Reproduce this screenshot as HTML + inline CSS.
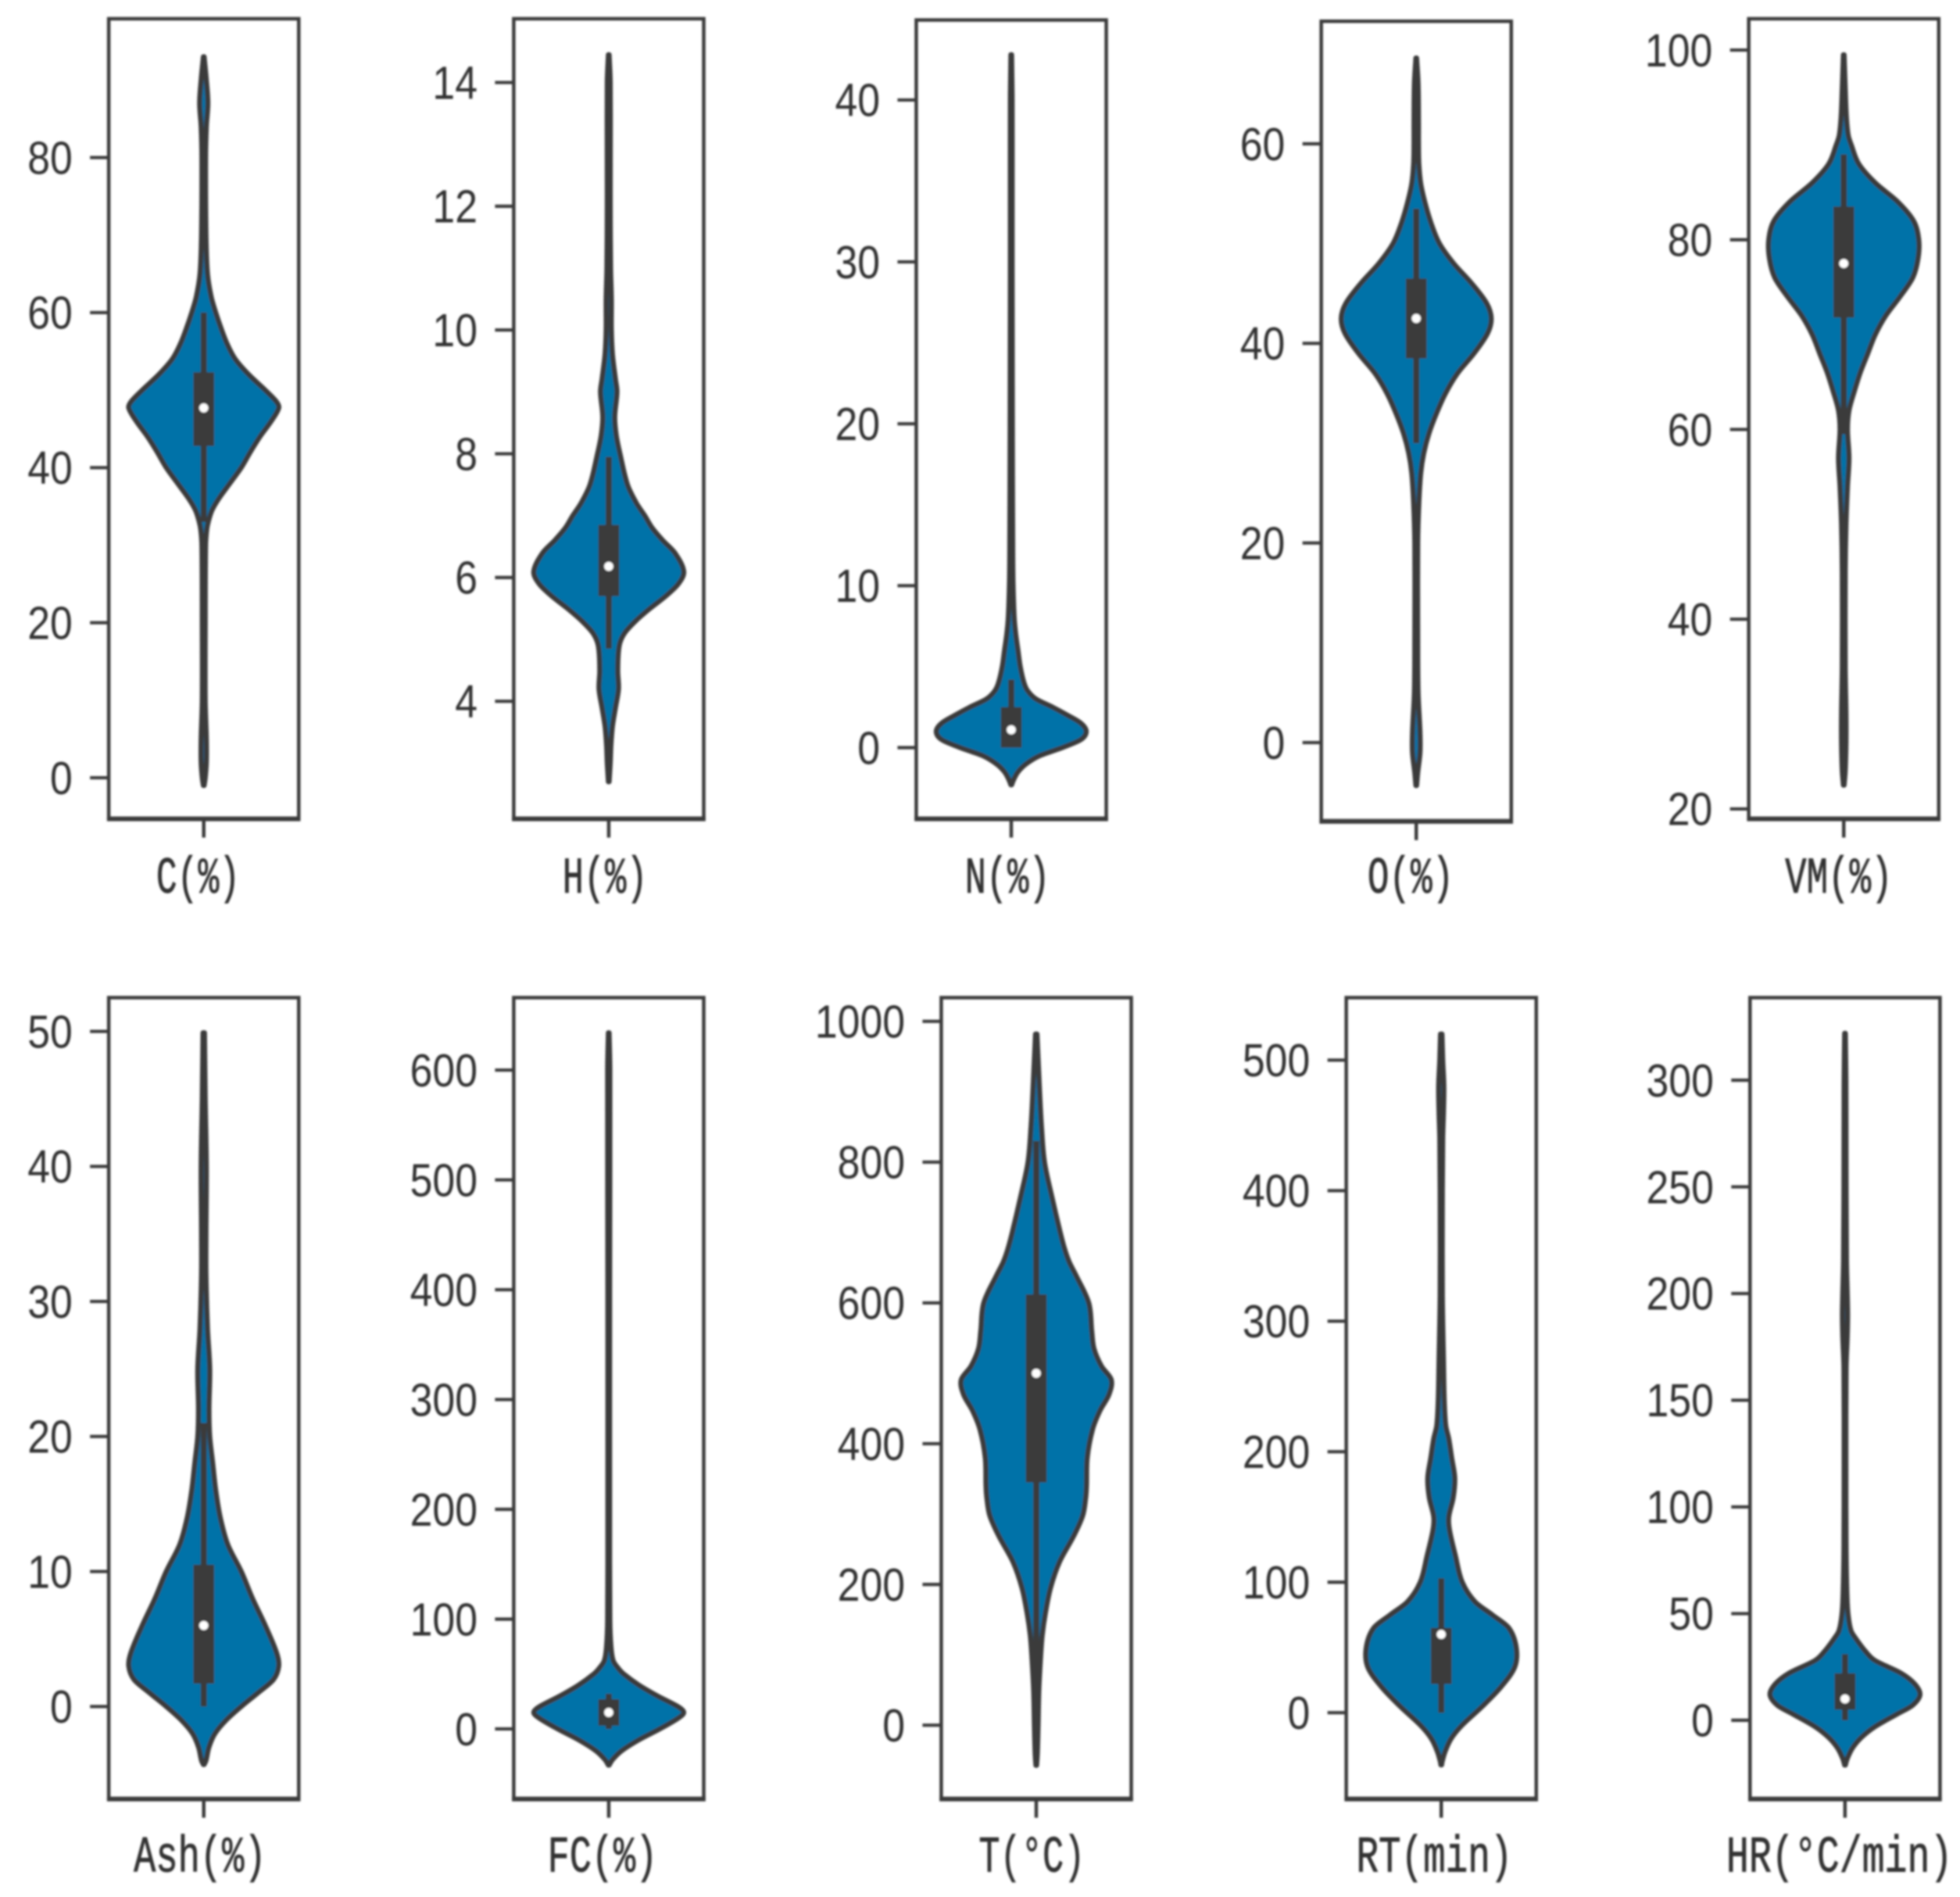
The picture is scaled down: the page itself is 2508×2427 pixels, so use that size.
<!DOCTYPE html>
<html lang="en">
<head>
<meta charset="utf-8">
<title>Violin plots of biomass and process variables</title>
<style>
html,body{margin:0;padding:0;background:#fff;}
svg{display:block;}
.tick-label{font-family:"Liberation Sans","Noto Sans CJK SC",sans-serif;font-size:37px;fill:#333;}
.x-label{font-family:"Liberation Mono","Noto Sans CJK SC",monospace;font-size:41px;fill:#333;stroke:#333;stroke-width:0.5px;}
</style>
</head>
<body>
<svg id="chart" xmlns="http://www.w3.org/2000/svg" width="2508" height="2427" viewBox="0 0 1568 1517.4" preserveAspectRatio="none">
  <defs>
    <filter id="soft" x="0" y="0" width="1568" height="1518" filterUnits="userSpaceOnUse" primitiveUnits="userSpaceOnUse">
      <feGaussianBlur stdDeviation="0.85"/>
    </filter>
  </defs>
  <rect x="0" y="0" width="1568" height="1517.4" fill="#fff"/>
  <g id="plots" filter="url(#soft)"></g>
</svg>
<script>
// ---- Data: value stops, relative density, box stats [whiskerLow, q1, median, q3, whiskerHigh], axis domain, ticks ----
const cValues = [93,90,87,84,80,70,65,62,60,58,56,54,52,50,48.5,47.7,46,44,42,40,38,36,34.5,33,32,30,20,10,5,2,0,-1];
const cDensity = [0.005,0.035,0.055,0.035,0.025,0.03,0.05,0.1,0.16,0.23,0.31,0.42,0.6,0.82,0.97,1,0.9,0.75,0.62,0.5,0.35,0.2,0.11,0.06,0.04,0.025,0.02,0.02,0.035,0.035,0.02,0.005];
const cBox = [33,42.8,47.7,52.3,60];
const cDomain = [-5.3,97.9];
const cTicks = [0,20,40,60,80];

const hValues = [14.45,14,12,11,10.5,10,9.6,9.2,9,8.6,8.3,8,7.5,7.2,7,6.8,6.6,6.4,6.1,5.9,5.7,5.5,5.3,5.1,4.9,4.5,4.2,3.9,3.6,3.3,3,2.7];
const hDensity = [0.005,0.02,0.02,0.025,0.035,0.035,0.05,0.09,0.11,0.08,0.1,0.15,0.25,0.37,0.48,0.58,0.72,0.88,1,0.93,0.76,0.55,0.36,0.21,0.14,0.12,0.13,0.09,0.05,0.03,0.02,0.005];
const hBox = [4.85,5.7,6.18,6.85,7.95];
const hDomain = [2.1,15.03];
const hTicks = [4,6,8,10,12,14];

const nValues = [42.8,40,30,20,12,10,8,7,6,5,4,3.5,3,2.5,2,1.5,1,0.5,0,-0.5,-1,-1.5,-2,-2.3];
const nDensity = [0.005,0.012,0.012,0.015,0.02,0.025,0.04,0.06,0.09,0.12,0.17,0.22,0.33,0.55,0.75,0.93,1,0.93,0.68,0.38,0.2,0.09,0.03,0.005];
const nBox = [0,0,1.1,2.5,4.2];
const nDomain = [-4.4,44.94];
const nTicks = [0,10,20,30,40];

const oValues = [68.6,66,62,60,58,56,54,52,50,48,46,44,42.5,41,39,37,35,33,31,29,27,24,20,10,5,1,-1,-3,-4.3];
const oDensity = [0.005,0.025,0.03,0.03,0.035,0.06,0.12,0.2,0.31,0.5,0.74,0.94,1,0.95,0.77,0.55,0.39,0.27,0.17,0.1,0.06,0.035,0.02,0.02,0.025,0.05,0.05,0.02,0.005];
const oBox = [30,38.5,42.5,46.5,53.5];
const oDomain = [-7.89,72.28];
const oTicks = [0,20,40,60];

const vmValues = [99.5,96,93,91,90,88,86,84,82,80,78,76,74,72,70,68,66,64,62,60,57,54,50,45,35,30,27,24,22.5];
const vmDensity = [0.005,0.02,0.035,0.06,0.1,0.2,0.42,0.72,0.93,1,0.99,0.92,0.75,0.56,0.42,0.32,0.22,0.14,0.07,0.05,0.07,0.05,0.03,0.02,0.02,0.03,0.03,0.02,0.005];
const vmBox = [59.5,71.8,77.5,83.5,89];
const vmDomain = [18.95,103.3];
const vmTicks = [20,40,60,80,100];

const ashValues = [49.9,45,40,35,32,28,25,22,20,18,16,14,12,10,8,6,4,3,2,1,0,-1,-2,-3,-4,-4.3];
const ashDensity = [0.01,0.02,0.035,0.03,0.03,0.05,0.08,0.07,0.08,0.12,0.16,0.22,0.32,0.5,0.65,0.82,0.97,1,0.93,0.72,0.5,0.3,0.15,0.07,0.03,0.005];
const ashBox = [0,1.7,6,10.5,21];
const ashDomain = [-6.85,52.5];
const ashTicks = [0,10,20,30,40,50];

const fcValues = [634,600,400,200,100,75,62,55,50,40,30,20,15,10,0,-10,-20,-28,-33];
const fcDensity = [0.005,0.015,0.012,0.012,0.015,0.03,0.06,0.13,0.2,0.4,0.65,0.93,1,0.93,0.68,0.4,0.17,0.05,0.005];
const fcBox = [0,3,15,27,32];
const fcDomain = [-63.8,666];
const fcTicks = [0,100,200,300,400,500,600];

const tValues = [982,900,850,800,750,700,676,658,639,600,560,535,510,491,470,447,420,380,340,324,298,269,232,195,158,128,100,50,0,-40,-57];
const tDensity = [0.01,0.045,0.07,0.11,0.21,0.32,0.38,0.44,0.53,0.7,0.74,0.77,0.87,1,0.97,0.85,0.75,0.68,0.67,0.66,0.62,0.5,0.31,0.19,0.12,0.08,0.06,0.035,0.025,0.015,0.005];
const tBox = [0,345,500,612,830];
const tDomain = [-104.8,1033.7];
const tTicks = [0,200,400,600,800,1000];

const rtValues = [520,500,480,460,440,400,320,270,240,220,210,195,180,165,150,140,120,100,85,75,65,50,35,20,5,-10,-20,-30,-38,-40];
const rtDensity = [0.01,0.02,0.035,0.03,0.02,0.015,0.015,0.03,0.04,0.06,0.1,0.14,0.18,0.16,0.1,0.11,0.19,0.28,0.45,0.68,0.9,1,0.98,0.8,0.55,0.27,0.13,0.05,0.01,0.005];
const rtBox = [0,22,60,65,103];
const rtDomain = [-66.1,547.9];
const rtTicks = [0,100,200,300,400,500];

const hrValues = [322,300,250,215,200,190,180,165,120,80,60,50,42,38,32,28,22,17,12,7,3,-3,-8,-13,-18,-21];
const hrDensity = [0.005,0.012,0.015,0.02,0.03,0.035,0.03,0.015,0.012,0.015,0.025,0.04,0.08,0.15,0.28,0.4,0.75,0.93,1,0.9,0.7,0.4,0.22,0.1,0.03,0.005];
const hrBox = [0,5,10,22,31];
const hrDomain = [-36.9,338.7];
const hrTicks = [0,50,100,150,200,250,300];

const categories = ['C(%)','H(%)','N(%)','O(%)','VM(%)','Ash(%)','FC(%)','T(°C)','RT(min)','HR(°C/min)'];
const categorySlugs = ['c','h','n','o','vm','ash','fc','t','rt','hr'];
const allValues = [cValues,hValues,nValues,oValues,vmValues,ashValues,fcValues,tValues,rtValues,hrValues];
const allDensity = [cDensity,hDensity,nDensity,oDensity,vmDensity,ashDensity,fcDensity,tDensity,rtDensity,hrDensity];
const allBoxes = [cBox,hBox,nBox,oBox,vmBox,ashBox,fcBox,tBox,rtBox,hrBox];
const allDomains = [cDomain,hDomain,nDomain,oDomain,vmDomain,ashDomain,fcDomain,tDomain,rtDomain,hrDomain];
const allTicks = [cTicks,hTicks,nTicks,oTicks,vmTicks,ashTicks,fcTicks,tTicks,rtTicks,hrTicks];

// ---- Layout (frame geometry, separate from the data) ----
const frames = [
  {l:87,t:15,b:655,lx:125,lw:67,ly:714},
  {l:411,t:15,b:655,lx:450,lw:68,ly:714},
  {l:733,t:16,b:655,lx:772,lw:68,ly:714},
  {l:1057,t:17,b:657,lx:1094,lw:69,ly:714},
  {l:1399,t:15,b:655,lx:1428,lw:86,ly:714},
  {l:87,t:798,b:1439,lx:107,lw:106,ly:1497},
  {l:411,t:798,b:1439,lx:438,lw:88,ly:1497},
  {l:753,t:798,b:1439,lx:783,lw:85,ly:1497},
  {l:1077,t:798,b:1439,lx:1085,lw:125,ly:1497},
  {l:1400,t:798,b:1439,lx:1381,lw:181,ly:1497}
];
const FRAME_W = 152, MAX_HALF = 60, INK = '#3b3b3b', BLUE = '#0072a8', DIGIT_W = 18;
const NS = 'http://www.w3.org/2000/svg';
const root = document.getElementById('plots');

function make(tag, attrs, parent) {
  const node = document.createElementNS(NS, tag);
  for (const k in attrs) node.setAttribute(k, attrs[k]);
  parent.appendChild(node);
  return node;
}
function yScale(domain, frame) {
  return v => frame.b - (v - domain[0]) / (domain[1] - domain[0]) * (frame.b - frame.t);
}
// smooth outline: x as a function of y, with finite-difference tangents at uneven stops
function smooth(pts) {
  const slope = i => {
    const a = pts[Math.max(i - 1, 0)], b = pts[Math.min(i + 1, pts.length - 1)];
    return (b[0] - a[0]) / ((b[1] - a[1]) || 1);
  };
  let d = '';
  for (let i = 0; i < pts.length - 1; i++) {
    const p1 = pts[i], p2 = pts[i + 1], h = (p2[1] - p1[1]) / 3;
    d += 'C' + (p1[0] + slope(i) * h).toFixed(2) + ' ' + (p1[1] + h).toFixed(2) + ' ' +
         (p2[0] - slope(i + 1) * h).toFixed(2) + ' ' + (p2[1] - h).toFixed(2) + ' ' +
         p2[0].toFixed(2) + ' ' + p2[1].toFixed(2);
  }
  return d;
}

categories.forEach((label, i) => {
  const f = frames[i];
  const slug = categorySlugs[i];
  const cx = f.l + FRAME_W / 2;
  const y = yScale(allDomains[i], f);
  const values = allValues[i], density = allDensity[i], box = allBoxes[i];

  const g = make('g', {}, root);
  
  

  // violin body
  const right = values.map((v, k) => [cx + density[k] * MAX_HALF, y(v)]);
  const left = values.map((v, k) => [cx - density[k] * MAX_HALF, y(v)]).reverse();
  const d = 'M' + right[0][0].toFixed(2) + ' ' + right[0][1].toFixed(2) + smooth(right) +
            'L' + left[0][0].toFixed(2) + ' ' + left[0][1].toFixed(2) + smooth(left) + 'Z';
  const violin = make('path', {d: d, fill: BLUE, stroke: INK, 'stroke-width': 4, 'stroke-linejoin': 'round'}, g);
  
  

  // whisker
  const whisker = make('line', {x1: cx, x2: cx, y1: y(box[0]), y2: y(box[4]), stroke: INK, 'stroke-width': 4.8}, g);
  
  

  // box
  const iqr = make('rect', {x: cx - 8.3, y: y(box[3]), width: 16.6, height: y(box[1]) - y(box[3]), fill: INK}, g);
  
  

  // median
  const med = make('circle', {cx: cx, cy: y(box[2]), r: 3.6, fill: '#fff'}, g);
  
  

  // frame
  const frame = make('rect', {x: f.l, y: f.t, width: FRAME_W, height: f.b - f.t, fill: 'none', stroke: INK, 'stroke-width': 2.8}, g);
  
  
  const baseLine = make('line', {x1: f.l - 1.4, x2: f.l + FRAME_W + 1.4, y1: f.b, y2: f.b, stroke: INK, 'stroke-width': 3.8}, g);
  
  

  // y ticks and labels
  allTicks[i].forEach(t => {
    const tick = make('line', {x1: f.l - 15, x2: f.l, y1: y(t), y2: y(t), stroke: INK, 'stroke-width': 2.6}, g);
    
    
    const w = String(t).length * DIGIT_W;
    const txt = make('text', {x: f.l - 29 - w, y: y(t) + 13, textLength: w, lengthAdjust: 'spacingAndGlyphs', class: 'tick-label'}, g);
    
    
    txt.textContent = t;
  });

  // x tick and label
  const xt = make('line', {x1: cx, x2: cx, y1: f.b, y2: f.b + 15, stroke: INK, 'stroke-width': 2.8}, g);
  
  
  const xl = make('text', {x: f.lx, y: f.ly, textLength: f.lw, lengthAdjust: 'spacingAndGlyphs', class: 'x-label'}, g);
  
  
  xl.textContent = label;
});
</script>
</body>
</html>
